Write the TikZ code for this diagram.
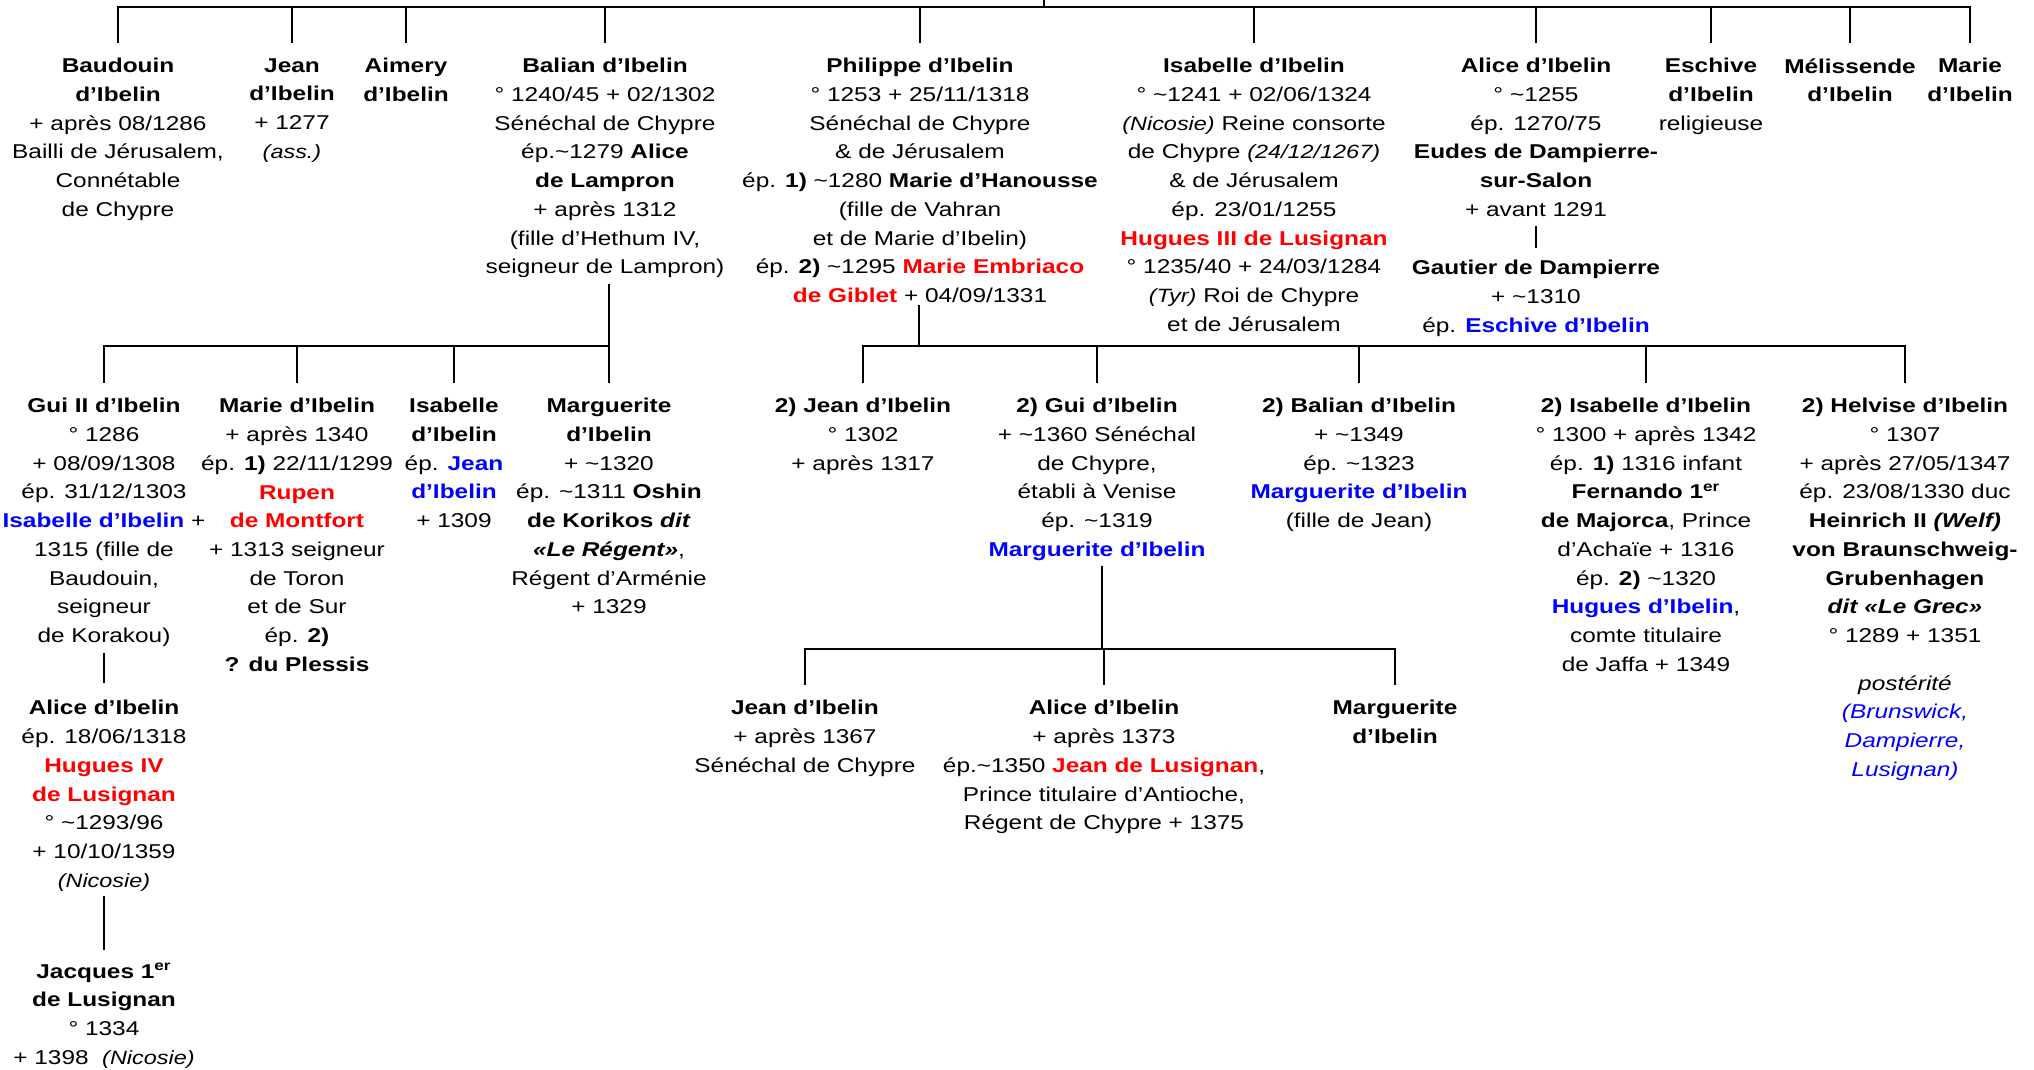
\documentclass[tikz,border=0pt]{standalone}
\usepackage{fontspec}
\setmainfont{Liberation Sans}[FakeStretch=1.22]
\usetikzlibrary{positioning}
\definecolor{redname}{RGB}{255,0,0}
\definecolor{bluename}{RGB}{0,0,255}
\newcommand{\redn}[1]{\textcolor{redname}{\textbf{#1}}}
\newcommand{\bluen}[1]{\textcolor{bluename}{\textbf{#1}}}
\newcommand{\smallit}[1]{{\fontsize{9.6}{10}\selectfont\textit{#1}}}
\newcommand{\tld}{\textasciitilde}

\begin{document}
\begin{tikzpicture}[x=0.5pt, y=-0.5pt,
    person/.style={anchor=north, align=center, inner sep=0pt, font=\fontsize{10}{14.35}\selectfont},
    link/.style={line width=1.2pt},
    drop/.style={link, shorten >=7.5pt}]
\useasboundingbox (0,0) rectangle (2034,1070);

\node[person] (baud) at (118,58) {\textbf{Baudouin}\\\textbf{d’Ibelin}\\+ après 08/1286\\Bailli de Jérusalem,\\Connétable\\de Chypre};
\node[person] (jean) at (292,58) {\textbf{Jean}\\\textbf{d’Ibelin}\\+ 1277\\\smallit{(ass.)}};
\node[person] (aimery) at (406,58) {\textbf{Aimery}\\\textbf{d’Ibelin}};
\node[person] (balian) at (605,58) {\textbf{Balian d’Ibelin}\\° 1240/45 + 02/1302\\Sénéchal de Chypre\\ép.\tld1279 \textbf{Alice}\\\textbf{de Lampron}\\+ après 1312\\(fille d’Hethum IV,\\seigneur de Lampron)};
\node[person] (philippe) at (920,58) {\textbf{Philippe d’Ibelin}\\° 1253 + 25/11/1318\\Sénéchal de Chypre\\\& de Jérusalem\\ép. \textbf{1)} \tld1280 \textbf{Marie d’Hanousse}\\(fille de Vahran\\et de Marie d’Ibelin)\\ép. \textbf{2)} \tld1295 \redn{Marie Embriaco}\\\redn{de Giblet} + 04/09/1331};
\node[person] (isabelle) at (1254,58) {\textbf{Isabelle d’Ibelin}\\° \tld1241 + 02/06/1324\\\smallit{(Nicosie)} Reine consorte\\de Chypre \smallit{(24/12/1267)}\\\& de Jérusalem\\ép. 23/01/1255\\\redn{Hugues III de Lusignan}\\° 1235/40 + 24/03/1284\\\smallit{(Tyr)} Roi de Chypre\\et de Jérusalem};
\node[person] (alice) at (1536,58) {\textbf{Alice d’Ibelin}\\° \tld1255\\ép. 1270/75\\\textbf{Eudes de Dampierre-}\\\textbf{sur-Salon}\\+ avant 1291};
\node[person] (gautier) at (1536,260) {\textbf{Gautier de Dampierre}\\+ \tld1310\\ép. \bluen{Eschive d’Ibelin}};
\node[person] (eschive) at (1711,58) {\textbf{Eschive}\\\textbf{d’Ibelin}\\religieuse};
\node[person] (melissende) at (1850,58) {\textbf{Mélissende}\\\textbf{d’Ibelin}};
\node[person] (marie) at (1970,58) {\textbf{Marie}\\\textbf{d’Ibelin}};

\node[person] (gui) at (104,398) {\textbf{Gui II d’Ibelin}\\° 1286\\+ 08/09/1308\\ép. 31/12/1303\\\bluen{Isabelle d’Ibelin} +\\1315 (fille de\\Baudouin,\\seigneur\\de Korakou)};
\node[person] (alicegui) at (104,700) {\textbf{Alice d’Ibelin}\\ép. 18/06/1318\\\redn{Hugues IV}\\\redn{de Lusignan}\\° \tld1293/96\\+ 10/10/1359\\\smallit{(Nicosie)}};
\node[person] (jacques) at (104,963) {\textbf{Jacques 1\textsuperscript{er}}\\\textbf{de Lusignan}\\° 1334\\+ 1398 \ \smallit{(Nicosie)}};
\node[person] (mariebal) at (297,398) {\textbf{Marie d’Ibelin}\\+ après 1340\\ép. \textbf{1)} 22/11/1299\\\redn{Rupen}\\\redn{de Montfort}\\+ 1313 seigneur\\de Toron\\et de Sur\\ép. \textbf{2)}\\\textbf{? du Plessis}};
\node[person] (isabal) at (454,398) {\textbf{Isabelle}\\\textbf{d’Ibelin}\\ép. \bluen{Jean}\\\bluen{d’Ibelin}\\+ 1309};
\node[person] (margbal) at (609,398) {\textbf{Marguerite}\\\textbf{d’Ibelin}\\+ \tld1320\\ép. \tld1311 \textbf{Oshin}\\\textbf{de Korikos \textit{dit}}\\\textbf{\textit{«Le Régent»}},\\Régent d’Arménie\\+ 1329};

\node[person] (jeanphi) at (863,398) {\textbf{2) Jean d’Ibelin}\\° 1302\\+ après 1317};
\node[person] (guiphi) at (1097,398) {\textbf{2) Gui d’Ibelin}\\+ \tld1360 Sénéchal\\de Chypre,\\établi à Venise\\ép. \tld1319\\\bluen{Marguerite d’Ibelin}};
\node[person] (balphi) at (1359,398) {\textbf{2) Balian d’Ibelin}\\+ \tld1349\\ép. \tld1323\\\bluen{Marguerite d’Ibelin}\\(fille de Jean)};
\node[person] (isaphi) at (1646,398) {\textbf{2) Isabelle d’Ibelin}\\° 1300 + après 1342\\ép. \textbf{1)} 1316 infant\\\textbf{Fernando 1\textsuperscript{er}}\\\textbf{de Majorca}, Prince\\d’Achaïe + 1316\\ép. \textbf{2)} \tld1320\\\bluen{Hugues d’Ibelin},\\comte titulaire\\de Jaffa + 1349};
\node[person] (helvise) at (1905,398) {\textbf{2) Helvise d’Ibelin}\\° 1307\\+ après 27/05/1347\\ép. 23/08/1330 duc\\\textbf{Heinrich II \textit{(Welf)}}\\\textbf{von Braunschweig-}\\\textbf{Grubenhagen}\\\textbf{\textit{dit «Le Grec»}}\\° 1289 + 1351};
\node[person] (posterite) at (1905,675) {\textit{postérité}\\\textcolor{bluename}{\textit{(Brunswick,}}\\\textcolor{bluename}{\textit{Dampierre,}}\\\textcolor{bluename}{\textit{Lusignan)}}};

\node[person] (jeangui) at (805,700) {\textbf{Jean d’Ibelin}\\+ après 1367\\Sénéchal de Chypre};
\node[person] (alicegui2) at (1104,700) {\textbf{Alice d’Ibelin}\\+ après 1373\\ép.\tld1350 \redn{Jean de Lusignan},\\Prince titulaire d’Antioche,\\Régent de Chypre + 1375};
\node[person] (marggui) at (1395,700) {\textbf{Marguerite}\\\textbf{d’Ibelin}};

\coordinate (root) at (1044,0);
\coordinate (bus1) at (1044,7);
\coordinate (busbal) at (609,346);
\coordinate (busphi) at (919,346);
\coordinate (busgui) at (1102,649);

\draw[link] (root) -- (bus1);
\foreach \n in {baud,jean,aimery,balian,philippe,isabelle,alice,eschive,melissende,marie}
  \draw[drop] (bus1) -| (\n);

\draw[link, shorten <=2.6pt] (balian.south -| busbal) -- (busbal);
\foreach \n in {gui,mariebal,isabal,margbal}
  \draw[drop] (busbal) -| (\n);

\draw[link, shorten <=0.8pt] (philippe.south -| busphi) -- (busphi);
\foreach \n in {jeanphi,guiphi,balphi,isaphi,helvise}
  \draw[drop] (busphi) -| (\n);

\draw[link, shorten <=2.3pt] (guiphi.south -| busgui) -- (busgui);
\foreach \n in {jeangui,alicegui2,marggui}
  \draw[drop] (busgui) -| (\n);

\draw[link, shorten <=4.5pt, shorten >=6pt] (alice) -- (gautier);
\draw[link, shorten <=2.8pt, shorten >=8.5pt] (gui) -- (alicegui);
\draw[link, shorten <=2.3pt, shorten >=6.5pt] (alicegui) -- (jacques);
\end{tikzpicture}
\end{document}
